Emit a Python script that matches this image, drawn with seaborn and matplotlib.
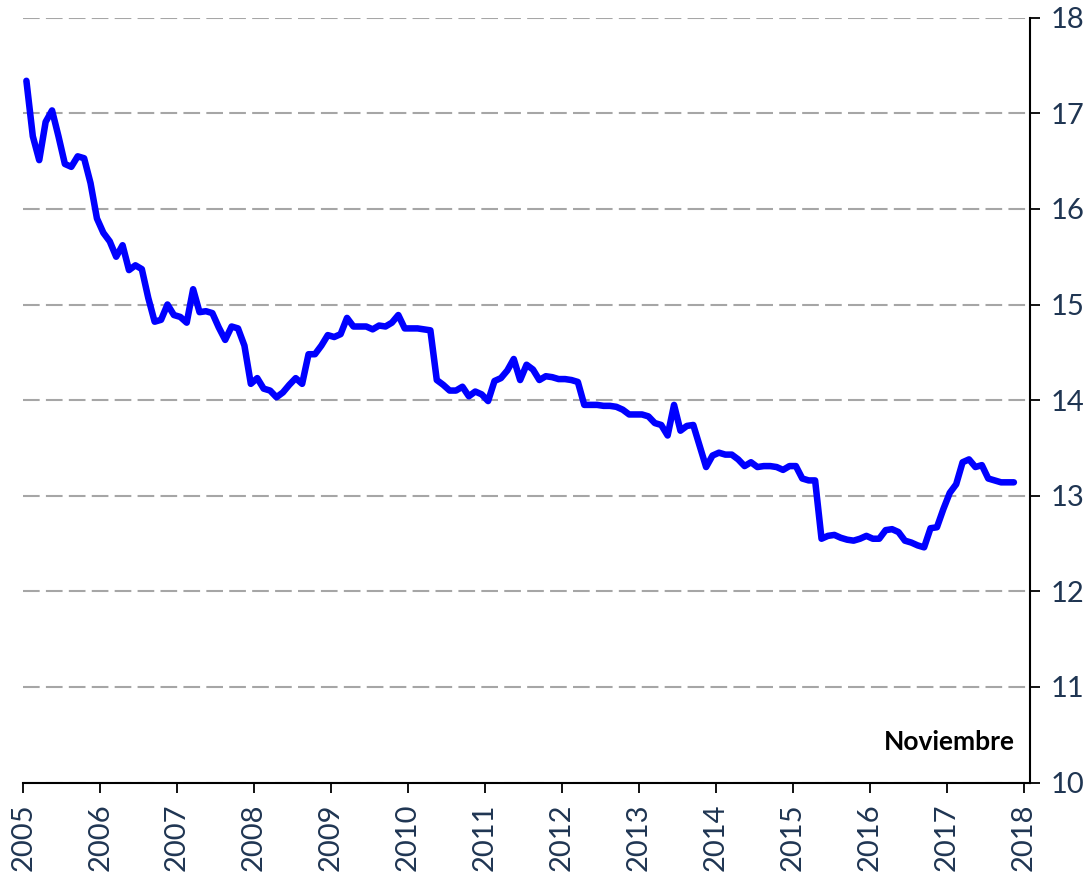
import numpy as np
import pandas as pd
import matplotlib
matplotlib.use("Agg")
import matplotlib.pyplot as plt
import seaborn as sns

# Monthly series, January 2005 .. November 2017
start_year = 2005
values = [
    17.34, 16.76, 16.51, 16.91, 17.03, 16.76, 16.47, 16.44, 16.55, 16.53, 16.27, 15.90,  # 2005
    15.75, 15.66, 15.50, 15.62, 15.36, 15.41, 15.37, 15.07, 14.82, 14.84, 15.00, 14.89,  # 2006
    14.87, 14.81, 15.16, 14.92, 14.93, 14.91, 14.76, 14.63, 14.77, 14.75, 14.57, 14.17,  # 2007
    14.23, 14.12, 14.10, 14.03, 14.08, 14.16, 14.23, 14.17, 14.48, 14.48, 14.57, 14.68,  # 2008
    14.66, 14.69, 14.86, 14.77, 14.77, 14.77, 14.74, 14.78, 14.77, 14.81, 14.89, 14.75,  # 2009
    14.75, 14.75, 14.74, 14.73, 14.21, 14.16, 14.10, 14.10, 14.14, 14.04, 14.09, 14.06,  # 2010
    13.99, 14.20, 14.23, 14.31, 14.43, 14.21, 14.37, 14.32, 14.21, 14.25, 14.24, 14.22,  # 2011
    14.22, 14.21, 14.19, 13.95, 13.95, 13.95, 13.94, 13.94, 13.93, 13.90, 13.85, 13.85,  # 2012
    13.85, 13.83, 13.76, 13.74, 13.63, 13.95, 13.68, 13.73, 13.74, 13.52, 13.30, 13.42,  # 2013
    13.45, 13.43, 13.43, 13.38, 13.31, 13.35, 13.30, 13.31, 13.31, 13.30, 13.27, 13.31,  # 2014
    13.31, 13.18, 13.16, 13.16, 12.55, 12.58, 12.59, 12.56, 12.54, 12.53, 12.55, 12.58,  # 2015
    12.55, 12.55, 12.64, 12.65, 12.62, 12.53, 12.51, 12.48, 12.46, 12.66, 12.67, 12.86,  # 2016
    13.03, 13.12, 13.35, 13.38, 13.30, 13.32, 13.18, 13.16, 13.14, 13.14, 13.14,         # 2017
]
x_ticks = list(range(2005, 2019))
y_ticks = list(range(10, 19))
note = "Noviembre"

t = start_year + (np.arange(len(values)) + 0.5) / 12.0
df = pd.DataFrame({"t": t, "v": values})

sns.set_style("white")
plt.rcParams['font.family'] = ['Lato', 'DejaVu Sans']

fig = plt.figure(figsize=(10.89, 8.76), dpi=100)
ax = fig.add_axes([0.0213, 0.1067, 0.9245, 0.8731])

sns.lineplot(data=df, x="t", y="v", ax=ax, color="#0000FF", linewidth=4.7,
             solid_joinstyle="round", solid_capstyle="round", zorder=3)

ax.set_xlim(2005, 2018.084)
ax.set_ylim(10, 18)
ax.set_xticks(x_ticks)
ax.set_xticklabels([str(v) for v in x_ticks])
ax.set_yticks(y_ticks)
ax.set_yticklabels([str(v) for v in y_ticks])
ax.set_xlabel("")
ax.set_ylabel("")

ax.set_axisbelow(True)
ax.yaxis.grid(True, color="#A6A6A6", linestyle=(0, (8, 3)), linewidth=1.5)
ax.xaxis.grid(False)

ax.yaxis.tick_right()
for s in ["left", "top"]:
    ax.spines[s].set_visible(False)
for s in ["right", "bottom"]:
    ax.spines[s].set_color("black")
    ax.spines[s].set_linewidth(1.5)

label_color = "#1F3552"
ax.tick_params(axis="y", which="both", direction="out", length=7, width=1.3,
               color="black", pad=8, labelsize=21, labelcolor=label_color,
               right=True, left=False, labelright=True, labelleft=False)
ax.tick_params(axis="x", which="both", direction="out", length=7, width=1.3,
               color="black", pad=8, labelsize=21, labelcolor=label_color,
               bottom=True, labelrotation=90)

ax.text(0.985, 0.043, note, transform=ax.transAxes, ha="right", va="baseline",
        fontsize=19, fontweight="bold", color="black")

fig.savefig("out.png", dpi=100)
